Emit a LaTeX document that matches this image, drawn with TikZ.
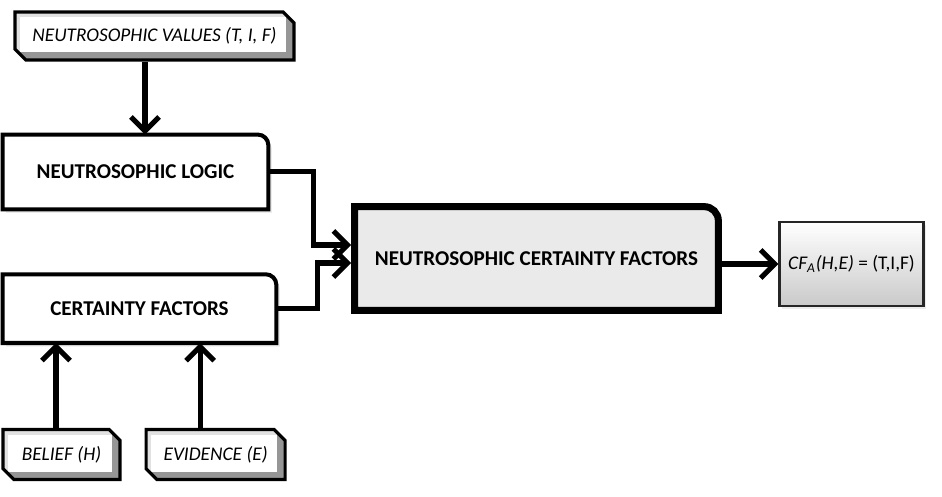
\documentclass[tikz,border=0pt]{standalone}
\usepackage{fontspec}
\setmainfont{Carlito}
\usetikzlibrary{shapes.misc, arrows.meta, positioning, backgrounds, shadows}
\definecolor{bevellight}{RGB}{225,225,225}
\definecolor{beveldark}{RGB}{150,150,150}
\definecolor{ncfbg}{RGB}{234,234,234}
\tikzset{
  bevelbox/.style={chamfered rectangle, chamfered rectangle corners={north east, south west},
                   chamfered rectangle xsep=3pt, draw=black, line width=1.8pt, fill=beveldark,
                   font=\fontsize{11}{13}\selectfont\itshape, align=center, inner sep=2pt,
                   path picture={
                     \fill[bevellight] (path picture bounding box.south west)
                       -- (path picture bounding box.north west)
                       -- (path picture bounding box.north east)
                       -- ([shift={(-4.5pt,-3pt)}]path picture bounding box.north east)
                       -- ([shift={(3pt,-3pt)}]path picture bounding box.north west)
                       -- ([shift={(3pt,4.5pt)}]path picture bounding box.south west) -- cycle;
                     \fill[white] ([shift={(3pt,4.5pt)}]path picture bounding box.south west)
                       rectangle ([shift={(-4.5pt,-3pt)}]path picture bounding box.north east);
                   }},
  tabbox/.style={rectangle, inner sep=0pt, font=\fontsize{12}{14}\selectfont\bfseries, align=center},
  tabline/.style={draw=black, fill=#1, line width=2.3pt,
                  drop shadow={opacity=0.15, shadow xshift=2pt, shadow yshift=-2pt}},
  resultbox/.style={rectangle, draw=black!85, line width=1.3pt, top color=white, bottom color=gray!42,
                    minimum width=2.88cm, minimum height=1.68cm, font=\fontsize{11}{13}\selectfont,
                    inner sep=1pt, drop shadow={opacity=0.15, shadow xshift=1.5pt, shadow yshift=-1.5pt}},
  arrowstyle/.style={-{Straight Barb[length=8pt, width=16pt]}, line width=2.9pt},
}
% box with one rounded corner (north east)
\newcommand{\tabcorner}[3]{%
  \path[#3] (#1.south west) -- (#1.north west) -- ([xshift=-#2]#1.north east)
    arc[start angle=90, end angle=0, radius=#2] -- (#1.south east) -- cycle;}

\begin{document}
\begin{tikzpicture}
  \useasboundingbox (0,0) rectangle (18.84,-9.92);

  \node[bevelbox, minimum width=5.58cm, minimum height=0.96cm] (values) at (3.09,-0.72)
    {NEUTROSOPHIC VALUES (T, I, F)};
  \node[tabbox, minimum width=5.30cm, minimum height=1.48cm, below=1.46cm of values, xshift=-0.38cm]
    (logic) {NEUTROSOPHIC LOGIC};
  \node[tabbox, minimum width=5.46cm, minimum height=1.36cm, below=1.30cm of logic, xshift=0.08cm]
    (cf) {CERTAINTY FACTORS};
  \node[bevelbox, minimum width=2.34cm, minimum height=1.0cm, below=1.70cm of cf, xshift=-1.56cm]
    (belief) {BELIEF (H)};
  \node[bevelbox, minimum width=2.78cm, minimum height=1.0cm, right=0.46cm of belief]
    (evidence) {EVIDENCE (E)};

  \node[tabbox, minimum width=7.26cm, minimum height=2.06cm] (ncf) at (10.73,-5.17)
    {NEUTROSOPHIC CERTAINTY FACTORS};
  \node[resultbox, right=1.20cm of ncf, yshift=-0.11cm] (result)
    {\textit{CF\textsubscript{A}(H,E)} = (T,I,F)};

  \begin{scope}[on background layer]
    \tabcorner{logic}{6pt}{tabline=white}
    \tabcorner{cf}{6pt}{tabline=white}
    \tabcorner{ncf}{8pt}{tabline=ncfbg, line width=4pt}
  \end{scope}

  \draw[arrowstyle] ([xshift=-0.19cm]values.south) -- ([xshift=-0.19cm]values.south |- logic.north);
  \draw[arrowstyle] ([xshift=-0.11cm]belief.north) -- ([xshift=-0.11cm]belief.north |- cf.south);
  \draw[arrowstyle] ([xshift=-0.31cm]evidence.north) -- ([xshift=-0.31cm]evidence.north |- cf.south);
  \draw[arrowstyle, shorten >=2pt] (logic.east) -- ++(0.90,0) |- ([yshift=0.27cm]ncf.west);
  \draw[arrowstyle, shorten >=2pt] (cf.east) -- ++(0.82,0) |- ([yshift=-0.09cm]ncf.west);
  \draw[arrowstyle] (result.west -| ncf.east) -- (result.west);
\end{tikzpicture}
\end{document}
